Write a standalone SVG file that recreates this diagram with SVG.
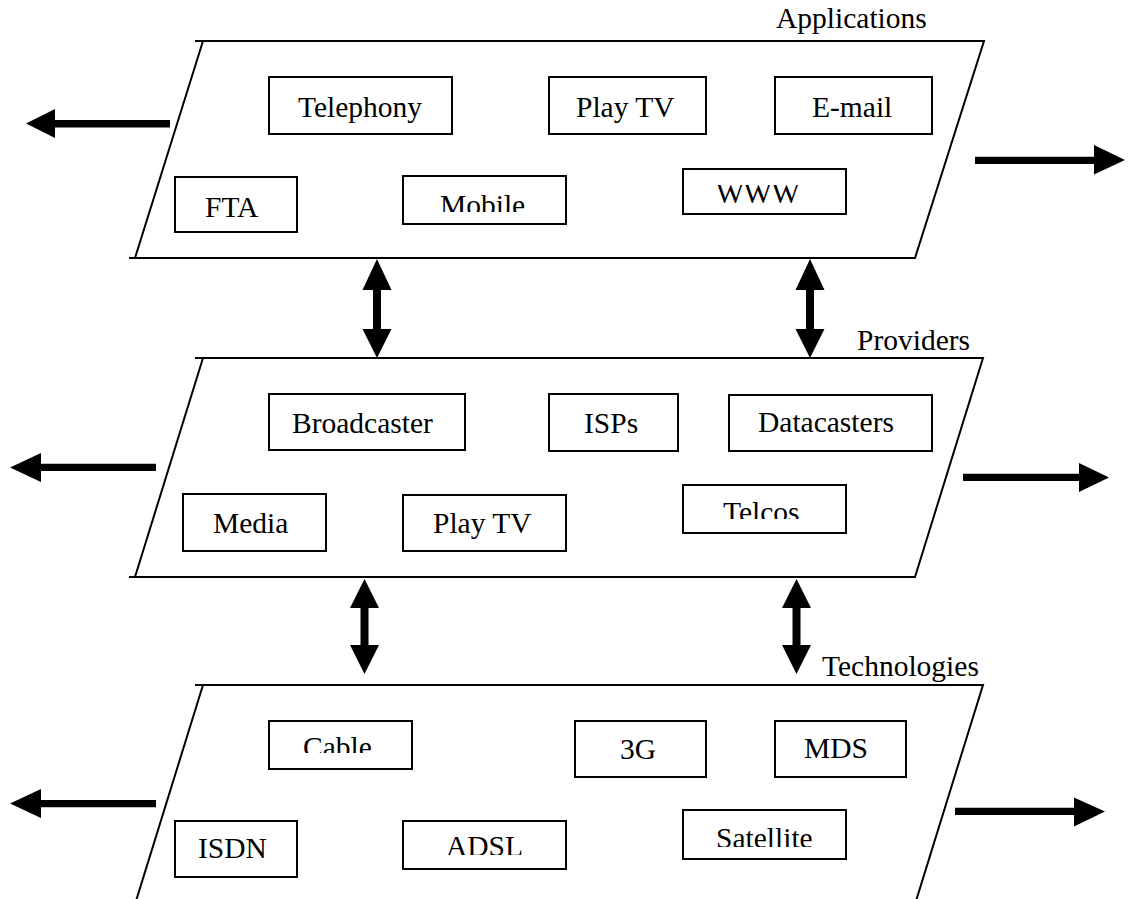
<svg xmlns="http://www.w3.org/2000/svg" width="1128" height="899" viewBox="0 0 1128 899">
  <style>
    .plane { fill: none; stroke: #000; stroke-width: 2; }
    .box { fill: #fff; stroke: #000; stroke-width: 2; }
    .lbl { font-family: 'Liberation Serif', 'Times New Roman', 'DejaVu Serif', serif; font-size: 29.5px; fill: #000; }
    .arrow { fill: #000; stroke: none; }
  </style>
  <defs>
    <clipPath id="clipMobile"><rect x="404" y="177" width="161" height="35"/></clipPath>
    <clipPath id="clipWWW"><rect x="684" y="185" width="161" height="28"/></clipPath>
    <clipPath id="clipTelcos"><rect x="684" y="486" width="161" height="33"/></clipPath>
    <clipPath id="clipCable"><rect x="270" y="722" width="141" height="31"/></clipPath>
    <clipPath id="clipADSL"><rect x="404" y="822" width="161" height="33"/></clipPath>
    <clipPath id="clipSatellite"><rect x="684" y="811" width="161" height="36"/></clipPath>
  </defs>
  <rect width="1128" height="899" fill="#fff"/>

  <!-- Layer planes -->
  <g id="layer-applications">
    <path class="plane" d="M195,41 H984 L915,258 H129 M203,41 L135,258"/>
    <text class="lbl" x="776" y="28">Applications</text>
  </g>
  <g id="layer-providers">
    <path class="plane" d="M195,358 H983 L915,577 H129 M203,358 L135,577"/>
    <text class="lbl" x="857" y="350">Providers</text>
  </g>
  <g id="layer-technologies">
    <path class="plane" d="M195,685 H983 L916,901 M203,685 L136,901"/>
    <text class="lbl" x="822" y="676">Technologies</text>
  </g>

  <!-- Applications -->
  <g id="telephony"><rect class="box" x="269" y="77" width="183" height="57"/><text class="lbl" x="298" y="117">Telephony</text></g>
  <g id="playtv-app"><rect class="box" x="549" y="77" width="157" height="57"/><text class="lbl" x="576" y="117">Play TV</text></g>
  <g id="email"><rect class="box" x="775" y="77" width="157" height="57"/><text class="lbl" x="812" y="117">E-mail</text></g>
  <g id="fta"><rect class="box" x="175" y="177" width="122" height="55"/><text class="lbl" x="205" y="217">FTA</text></g>
  <g id="mobile"><rect class="box" x="403" y="176" width="163" height="48"/><text class="lbl" x="440" y="215" clip-path="url(#clipMobile)">Mobile</text></g>
  <g id="www"><rect class="box" x="683" y="169" width="163" height="45"/><text class="lbl" x="716" y="203" clip-path="url(#clipWWW)">WWW</text></g>

  <!-- Providers -->
  <g id="broadcaster"><rect class="box" x="269" y="394" width="196" height="56"/><text class="lbl" x="292" y="433">Broadcaster</text></g>
  <g id="isps"><rect class="box" x="549" y="394" width="129" height="57"/><text class="lbl" x="584" y="433">ISPs</text></g>
  <g id="datacasters"><rect class="box" x="729" y="395" width="203" height="56"/><text class="lbl" x="758" y="432">Datacasters</text></g>
  <g id="media"><rect class="box" x="183" y="494" width="143" height="57"/><text class="lbl" x="213" y="533">Media</text></g>
  <g id="playtv-prov"><rect class="box" x="403" y="495" width="163" height="56"/><text class="lbl" x="433" y="533">Play TV</text></g>
  <g id="telcos"><rect class="box" x="683" y="485" width="163" height="48"/><text class="lbl" x="723" y="522" clip-path="url(#clipTelcos)">Telcos</text></g>

  <!-- Technologies -->
  <g id="cable"><rect class="box" x="269" y="721" width="143" height="48"/><text class="lbl" x="303" y="757" clip-path="url(#clipCable)">Cable</text></g>
  <g id="g3"><rect class="box" x="575" y="721" width="131" height="56"/><text class="lbl" x="620" y="759">3G</text></g>
  <g id="mds"><rect class="box" x="775" y="721" width="131" height="56"/><text class="lbl" x="804" y="758">MDS</text></g>
  <g id="isdn"><rect class="box" x="175" y="821" width="122" height="56"/><text class="lbl" x="198" y="858">ISDN</text></g>
  <g id="adsl"><rect class="box" x="403" y="821" width="163" height="48"/><text class="lbl" x="446" y="856" clip-path="url(#clipADSL)">ADSL</text></g>
  <g id="satellite"><rect class="box" x="683" y="810" width="163" height="49"/><text class="lbl" x="716" y="848" clip-path="url(#clipSatellite)">Satellite</text></g>

  <!-- Connectors -->
  <g id="connectors">
    <!-- outward arrows, applications -->
    <polygon class="arrow" points="170,120 55,120 55,109 26,123.5 55,138 55,127.5 170,127.5"/>
    <polygon class="arrow" points="975,156.7 1094,156.7 1094,145 1125,160 1094,174.5 1094,164 975,164"/>
    <!-- outward arrows, providers -->
    <polygon class="arrow" points="156,463.7 41,463.7 41,453 10,467.5 41,482 41,471 156,471"/>
    <polygon class="arrow" points="963,473.7 1079,473.7 1079,463 1109,477.5 1079,492 1079,481 963,481"/>
    <!-- outward arrows, technologies -->
    <polygon class="arrow" points="156,800 41,800 41,789 10,803.5 41,818 41,807.3 156,807.3"/>
    <polygon class="arrow" points="955,807.7 1074,807.7 1074,797.5 1105,811.5 1074,826.5 1074,815 955,815"/>
    <!-- double arrows between applications and providers -->
    <polygon class="arrow" points="377,259 391.5,290 381,290 381,329 391.5,329 377,358 362.5,329 373,329 373,290 362.5,290"/>
    <polygon class="arrow" points="810,259 824.5,290 814,290 814,329 824.5,329 810,358 795.5,329 806,329 806,290 795.5,290"/>
    <!-- double arrows between providers and technologies -->
    <polygon class="arrow" points="364.5,579 379,608 368.5,608 368.5,645 379,645 364.5,674 350,645 360.5,645 360.5,608 350,608"/>
    <polygon class="arrow" points="796.5,579 811,608 800.5,608 800.5,645 811,645 796.5,674 782,645 792.5,645 792.5,608 782,608"/>
  </g>
</svg>
